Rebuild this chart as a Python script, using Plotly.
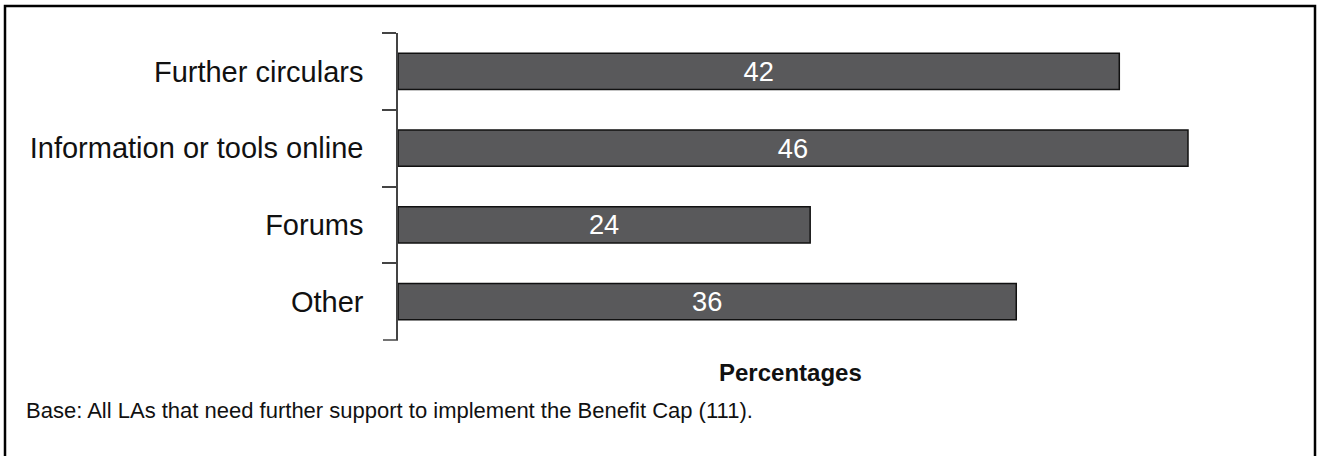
import plotly.graph_objects as go

categories = ["Further circulars", "Information or tools online", "Forums", "Other"]
values = [42, 46, 24, 36]
axis_title = "Percentages"
footnote = "Base: All LAs that need further support to implement the Benefit Cap (111)."

W, H = 1318, 456
L = 398
T = 33
R = 18
B = H - 340
PW, PH = W - L - R, H - T - B
px_per_unit = (1188 - 398) / 46.0
xmax = PW / px_per_unit


def px(sx):
    return (sx - L) / PW


def py(sy):
    return 1 - (sy - T) / PH


fig = go.Figure(go.Bar(
    x=values, y=categories, orientation="h",
    marker=dict(color="#59595b", line=dict(color="#111111", width=1.5)),
    width=0.47,
    text=[str(v) for v in values], textposition="inside", insidetextanchor="middle",
    textfont=dict(color="white", size=29, family="Liberation Sans, Arial"),
    hoverinfo="skip",
))

fig.update_layout(
    width=W, height=H,
    margin=dict(l=L, r=R, t=T, b=B, pad=0),
    paper_bgcolor="white", plot_bgcolor="white",
    showlegend=False,
    font=dict(family="Liberation Sans, Arial", size=20, color="#111111"),
    xaxis=dict(range=[0, xmax], visible=False, fixedrange=True),
    yaxis=dict(
        type="category", categoryorder="array", categoryarray=categories,
        range=[3.5, -0.5], showline=True, linecolor="#444444", linewidth=1.5,
        ticks="outside", tickson="boundaries", ticklen=14, tickcolor="#444444", tickwidth=1.5,
        ticklabelstandoff=27, showgrid=False, zeroline=False, fixedrange=True,
        tickfont=dict(size=29, color="#111111"),
    ),
    shapes=[
        dict(type="rect", xref="paper", yref="paper",
             x0=px(5), x1=px(1315), y0=py(470), y1=py(6),
             line=dict(color="#000000", width=2.5), layer="below"),
        dict(type="line", xref="paper", yref="paper",
             x0=px(383), x1=px(398), y0=0, y1=0,
             line=dict(color="#444444", width=1.5)),
    ],
    annotations=[
        dict(text="<b>" + axis_title + "</b>", xref="paper", yref="paper",
             x=px(790), y=py(372),
             xanchor="center", yanchor="middle", showarrow=False,
             font=dict(size=24, color="#111111")),
        dict(text=footnote, xref="paper", yref="paper",
             x=px(24), y=py(410),
             xanchor="left", yanchor="middle", showarrow=False,
             font=dict(size=22, color="#111111")),
    ],
)

fig.write_html("out.html", config={"displayModeBar": False},
               post_script="document.body.style.margin='0';")
